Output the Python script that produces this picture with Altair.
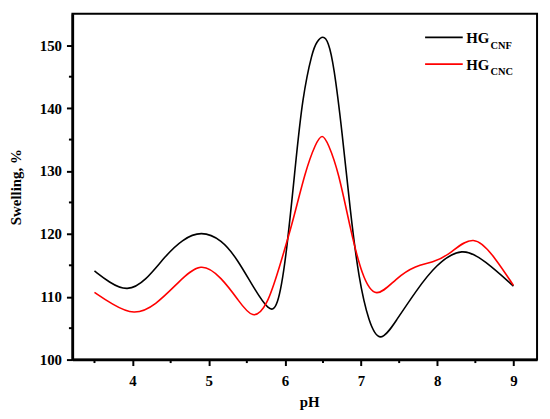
import altair as alt
import pandas as pd

# ---- data (control points of the smoothed curves) ----
cnf_ph = [3.5, 3.69, 3.93, 4.17, 4.43, 4.65, 4.90, 5.17, 5.38, 5.60, 5.79, 5.90, 6.01,
          6.14, 6.23, 6.36, 6.42, 6.50, 6.57, 6.64, 6.75, 6.86, 6.97, 7.10, 7.25, 7.46,
          7.72, 7.98, 8.33, 8.63, 9.0]
cnf_sw = [114.1, 112.3, 110.8, 112.5, 116.5, 119.1, 120.5, 119.1, 115.9, 111.2, 107.7,
          108.0, 115.4, 131.2, 141.7, 149.1, 150.6, 151.6, 150.6, 147.0, 136.4, 123.3,
          112.8, 105.9, 102.4, 106.2, 110.9, 115.1, 118.0, 115.7, 111.7]

cnc_ph = [3.5, 3.73, 4.02, 4.30, 4.60, 4.90, 5.17, 5.38, 5.58, 5.77, 5.92, 6.10, 6.27,
          6.40, 6.49, 6.57, 6.70, 6.86, 7.01, 7.19, 7.46, 7.72, 7.94, 8.16, 8.48, 8.76, 9.0]
cnc_sw = [110.7, 108.8, 107.0, 108.6, 112.3, 115.7, 113.0, 109.6, 106.2, 108.6, 114.4,
          121.7, 130.1, 134.3, 136.1, 134.3, 130.1, 120.7, 113.3, 109.4, 113.0, 115.0,
          115.4, 116.7, 120.2, 116.2, 111.8]

x_major = [4, 5, 6, 7, 8, 9]
x_minor = [3.5, 4.5, 5.5, 6.5, 7.5, 8.5]
y_major = [100, 110, 120, 130, 140, 150]
y_minor = [105, 115, 125, 135, 145]

series_main = ["HG", "HG"]
series_sub = ["CNF", "CNC"]
series_color = ["#000000", "#ff0000"]

FONT = "Liberation Serif"
W, H = 469, 349

df = pd.concat([
    pd.DataFrame({"pH": cnf_ph, "sw": cnf_sw, "s": "CNF"}),
    pd.DataFrame({"pH": cnc_ph, "sw": cnc_sw, "s": "CNC"}),
])

xscale = alt.Scale(domain=[3.21, 9.31], nice=False, zero=False)
yscale = alt.Scale(domain=[100, 155], nice=False, zero=False)

lines = alt.Chart(df).mark_line(strokeWidth=1.6, interpolate="basis").encode(
    x=alt.X("pH:Q", scale=xscale,
            axis=alt.Axis(values=x_major, title="pH", format="d",
                          titleX=239, titleY=42, titleAlign="center",
                          titleBaseline="middle", labelPadding=8)),
    y=alt.Y("sw:Q", scale=yscale,
            axis=alt.Axis(values=y_major, title="Swelling, %", format="d",
                          titleX=-57, titleY=H / 2, titleAlign="center",
                          titleBaseline="middle", titleAngle=270, labelPadding=5)),
    color=alt.Color("s:N", scale=alt.Scale(domain=series_sub, range=series_color),
                    legend=None),
    detail="s:N",
)

xmin_ticks = alt.Chart(pd.DataFrame({"pH": x_minor})).mark_rule(
    color="black", strokeWidth=2).encode(
    x=alt.X("pH:Q", scale=xscale), y=alt.value(H), y2=alt.value(H + 3.5))

ymin_ticks = alt.Chart(pd.DataFrame({"sw": y_minor})).mark_rule(
    color="black", strokeWidth=2).encode(
    y=alt.Y("sw:Q", scale=yscale), x=alt.value(0), x2=alt.value(-3.5))

legend_layers = []
for i in range(2):
    ly = 23.7 + i * 27
    one = pd.DataFrame({"m": [series_main[i]], "sub": [series_sub[i]]})
    legend_layers.append(
        alt.Chart(one).mark_rule(color=series_color[i], strokeWidth=1.8).encode(
            x=alt.value(356), x2=alt.value(394), y=alt.value(ly)))
    legend_layers.append(
        alt.Chart(one).mark_text(font=FONT, fontWeight="bold", fontSize=15,
                                 align="left", baseline="alphabetic", color="black").encode(
            x=alt.value(397.5), y=alt.value(ly + 6.2), text="m:N"))
    legend_layers.append(
        alt.Chart(one).mark_text(font=FONT, fontWeight="bold", fontSize=10.5,
                                 align="left", baseline="alphabetic", color="black").encode(
            x=alt.value(422), y=alt.value(ly + 11.5), text="sub:N"))

chart = alt.layer(lines, xmin_ticks, ymin_ticks, *legend_layers).properties(
    width=W, height=H,
    autosize=alt.AutoSizeParams(type="none"),
    padding={"left": 65, "top": 4, "right": 5, "bottom": 50},
).configure_view(
    stroke="black", strokeWidth=2
).configure_axis(
    grid=False,
    domainColor="black", domainWidth=2.5,
    tickColor="black", tickWidth=2, tickSize=6,
    labelFont=FONT, labelFontWeight="bold", labelFontSize=15, labelColor="black",
    titleFont=FONT, titleFontWeight="bold", titleFontSize=15, titleColor="black",
)

chart.save("out.html", embed_options={"renderer": "svg", "actions": False})
